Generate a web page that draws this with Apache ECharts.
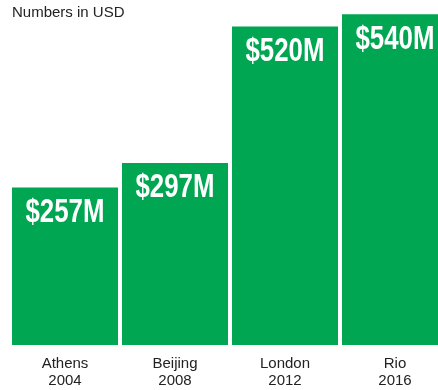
<!DOCTYPE html>
<html>
<head>
<meta charset="utf-8">
<style>
  html, body { margin: 0; padding: 0; background: #ffffff; }
  #chart { width: 438px; height: 390px; }
</style>
<script src="https://cdn.jsdelivr.net/npm/echarts@6/dist/echarts.min.js"></script>
</head>
<body>
<div id="chart"></div>
<script>
// Olympic host figures, millions of USD
const cities = ['Athens', 'Beijing', 'London', 'Rio'];
const years = ['2004', '2008', '2012', '2016'];
const valuesUSDm = [257, 297, 520, 540];

const categories = cities.map((c, i) => c + '\n' + years[i]);
const labelPoints = valuesUSDm.map((v, i) => [i, v]);

const chart = echarts.init(document.getElementById('chart'), null, { renderer: 'canvas' });

chart.setOption({
  animation: false,
  title: {
    text: 'Numbers in USD',
    left: 12,
    top: 4,
    padding: 0,
    textStyle: {
      fontFamily: 'Liberation Sans, Arial, sans-serif',
      fontSize: 15,
      fontWeight: 'normal',
      color: '#222222',
      lineHeight: 18
    }
  },
  grid: {
    left: 10,
    top: 2,
    right: -12,
    bottom: 45,
    outerBoundsMode: 'none',
    containLabel: false
  },
  xAxis: {
    type: 'category',
    data: categories,
    axisLine: { show: false },
    axisTick: { show: false },
    axisLabel: {
      margin: 10,
      fontFamily: 'Liberation Sans, Arial, sans-serif',
      fontSize: 15,
      lineHeight: 17,
      color: '#222222',
      interval: 0
    }
  },
  yAxis: {
    type: 'value',
    min: 0,
    max: 560,
    show: false,
    splitLine: { show: false }
  },
  series: [{
    type: 'bar',
    data: valuesUSDm,
    barWidth: 106,
    itemStyle: { color: '#00a651' }
  }, {
    // value captions: condensed white text just under each bar top
    type: 'custom',
    data: labelPoints,
    encode: { x: 0, y: 1 },
    z: 5,
    renderItem: function (params, api) {
      const pt = api.coord([api.value(0), api.value(1)]);
      return {
        type: 'text',
        x: pt[0],
        y: pt[1] + 25,
        scaleX: 0.76,
        style: {
          text: '$' + api.value(1) + 'M',
          fill: '#ffffff',
          font: 'bold 34px "Liberation Sans", Arial, sans-serif',
          align: 'center',
          verticalAlign: 'middle'
        }
      };
    }
  }]
});
</script>
</body>
</html>
